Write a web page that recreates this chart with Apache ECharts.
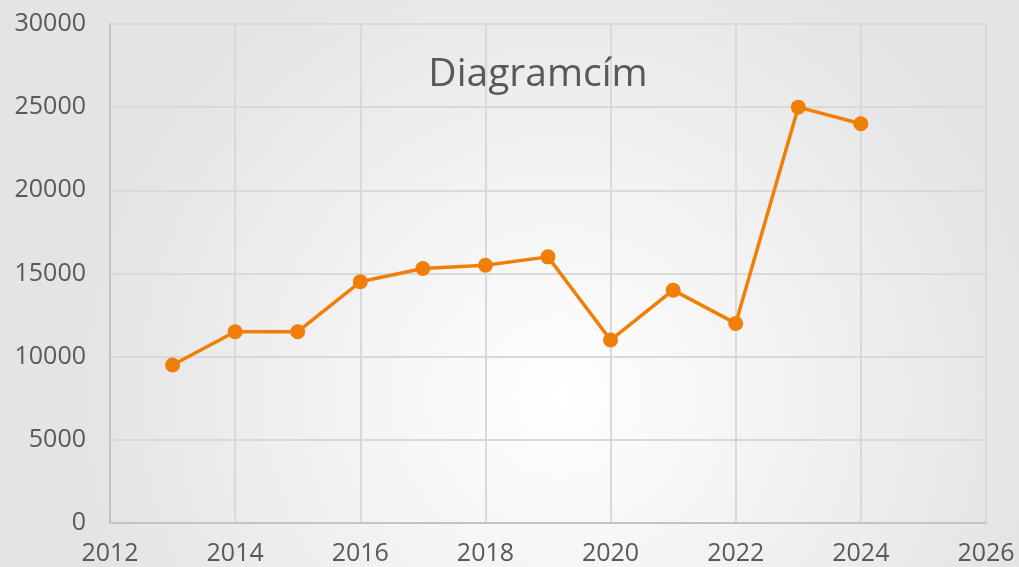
<!DOCTYPE html>
<html>
<head>
<meta charset="utf-8">
<script src="https://cdn.jsdelivr.net/npm/echarts@6/dist/echarts.min.js"></script>
<style>
  html, body { margin: 0; padding: 0; }
  #chart { width: 1019px; height: 567px; }
</style>
</head>
<body>
<div id="chart"></div>
<script>
// data
var years = [2013, 2014, 2015, 2016, 2017, 2018, 2019, 2020, 2021, 2022, 2023, 2024];
var values = [9500, 11500, 11500, 14500, 15300, 15500, 16000, 11000, 14000, 12000, 25000, 24000];
var titleText = 'Diagramcím';

var chart = echarts.init(document.getElementById('chart'));

var points = years.map(function (y, i) { return [y, values[i]]; });

function plain(v) { return String(v); }

var option = {
  backgroundColor: {
    type: 'radial', x: 0.55, y: 0.7, r: 0.85,
    colorStops: [
      { offset: 0, color: '#ffffff' },
      { offset: 1, color: '#e4e4e4' }
    ]
  },
  textStyle: { fontFamily: 'Open Sans' },
  title: {
    text: titleText,
    left: 533, top: 50,
    textAlign: 'center',
    textStyle: { fontFamily: 'Open Sans', fontSize: 39, fontWeight: 'normal', color: '#595959' }
  },
  grid: { left: 110, right: 33, top: 24, bottom: 44, containLabel: false },
  xAxis: {
    type: 'value', min: 2012, max: 2026, interval: 2,
    axisLine: { show: true, lineStyle: { color: '#c4c4c4', width: 2 } },
    axisTick: { show: false },
    splitLine: { show: true, lineStyle: { color: '#d9d9d9', width: 2 } },
    axisLabel: { color: '#595959', fontSize: 25, margin: 18, fontFamily: 'Open Sans', formatter: plain }
  },
  yAxis: {
    type: 'value', min: 0, max: 30000, interval: 5000,
    axisLine: { show: true, lineStyle: { color: '#c4c4c4', width: 2 } },
    axisTick: { show: false },
    splitLine: { show: true, lineStyle: { color: '#d9d9d9', width: 2 } },
    axisLabel: { color: '#595959', fontSize: 25, margin: 24, fontFamily: 'Open Sans', formatter: plain }
  },
  series: [{
    type: 'line',
    data: points,
    symbol: 'circle',
    symbolSize: 15,
    lineStyle: { color: '#f07f09', width: 3.5 },
    itemStyle: { color: '#f07f09' },
    animation: false
  }]
};

chart.setOption(option);
</script>
</body>
</html>
